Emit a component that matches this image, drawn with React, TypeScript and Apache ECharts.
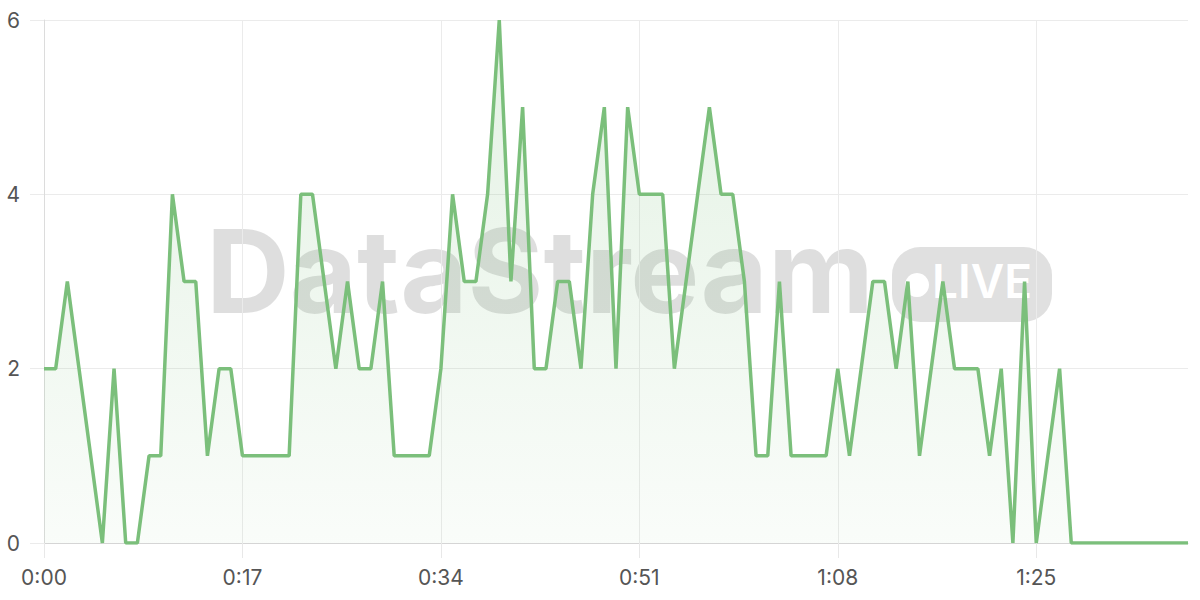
import React, { useEffect, useRef } from 'react';
import * as echarts from 'echarts';

// one reading per second, 0:00 .. 1:38
const counts = [
  2, 2, 3, 2, 1, 0, 2, 0, 0, 1,
  1, 4, 3, 3, 1, 2, 2, 1, 1, 1,
  1, 1, 4, 4, 3, 2, 3, 2, 2, 3,
  1, 1, 1, 1, 2, 4, 3, 3, 4, 6,
  3, 5, 2, 2, 3, 3, 2, 4, 5, 2,
  5, 4, 4, 4, 2, 3, 4, 5, 4, 4,
  3, 1, 1, 3, 1, 1, 1, 1, 2, 1,
  2, 3, 3, 2, 3, 1, 2, 3, 2, 2,
  2, 1, 2, 0, 3, 0, 1, 2, 0, 0,
  0, 0, 0, 0, 0, 0, 0, 0, 0,
];

const fmtTime = (s: number) => Math.floor(s / 60) + ':' + String(s % 60).padStart(2, '0');
const timeLabels = counts.map((_, i) => fmtTime(i));

const yTicks = { min: 0, max: 6, step: 2 };
const watermarkText = 'DataStream';
const badgeText = 'LIVE';

const LINE_GREEN = '#7bbf7b';
const LABEL_FONT = 'Inter, "Liberation Sans", Arial, sans-serif';

const App = () => {
  const chartRef = useRef<HTMLDivElement>(null);

  useEffect(() => {
    if (!chartRef.current) return;
    const myChart = echarts.init(chartRef.current, undefined, { renderer: 'svg' });

    const option = {
      animation: false,
      backgroundColor: '#ffffff',
      grid: { left: 44, right: 12, top: 20, bottom: 57 },
      graphic: [
        {
          type: 'text',
          z: 0,
          style: {
            x: 206,
            y: 271,
            text: watermarkText,
            font: '700 116px Inter, sans-serif',
            fill: 'rgba(0,0,0,0.13)',
            textAlign: 'left',
            textVerticalAlign: 'middle',
          },
        },
        {
          type: 'rect',
          z: 0,
          shape: { x: 892, y: 247, width: 160, height: 75, r: 28 },
          style: { fill: 'rgba(0,0,0,0.12)' },
        },
        {
          type: 'circle',
          z: 0,
          shape: { cx: 917, cy: 285, r: 12 },
          style: { fill: '#ffffff' },
        },
        {
          type: 'text',
          z: 0,
          style: {
            x: 982,
            y: 281,
            text: badgeText,
            font: '600 46px Inter, sans-serif',
            fill: '#ffffff',
            textAlign: 'center',
            textVerticalAlign: 'middle',
          },
        },
      ],
      xAxis: {
        type: 'category',
        data: timeLabels,
        boundaryGap: false,
        axisLine: { show: true, lineStyle: { color: '#d5d5d5', width: 1 } },
        axisTick: { show: true, interval: 16, length: 15, lineStyle: { color: '#e8e8e8' } },
        axisLabel: {
          interval: 16,
          margin: 24,
          color: '#555555',
          fontSize: 21,
          fontFamily: LABEL_FONT,
        },
        splitLine: { show: true, interval: 16, lineStyle: { color: '#ebebeb', width: 1 } },
      },
      yAxis: {
        type: 'value',
        min: yTicks.min,
        max: yTicks.max,
        interval: yTicks.step,
        axisLine: { show: true, lineStyle: { color: '#dcdcdc', width: 1 } },
        axisTick: { show: true, length: 14, lineStyle: { color: '#ebebeb' } },
        axisLabel: {
          margin: 24,
          color: '#555555',
          fontSize: 21,
          fontFamily: LABEL_FONT,
        },
        splitLine: { show: true, lineStyle: { color: '#ebebeb', width: 1 } },
      },
      series: [
        {
          type: 'line',
          data: counts,
          showSymbol: false,
          symbol: 'none',
          lineStyle: { color: LINE_GREEN, width: 3.5 },
          itemStyle: { color: LINE_GREEN },
          areaStyle: {
            color: new echarts.graphic.LinearGradient(0, 0, 0, 1, [
              { offset: 0, color: 'rgba(123,191,123,0.3)' },
              { offset: 1, color: 'rgba(123,191,123,0.06)' },
            ]),
          },
        },
      ],
    };

    myChart.setOption(option);

    return () => {
      myChart.dispose();
    };
  }, []);

  return (
    <div
      ref={chartRef}
      style={{ position: 'fixed', left: 0, top: 0, width: 1200, height: 600 }}
    ></div>
  );
};

export default App;
